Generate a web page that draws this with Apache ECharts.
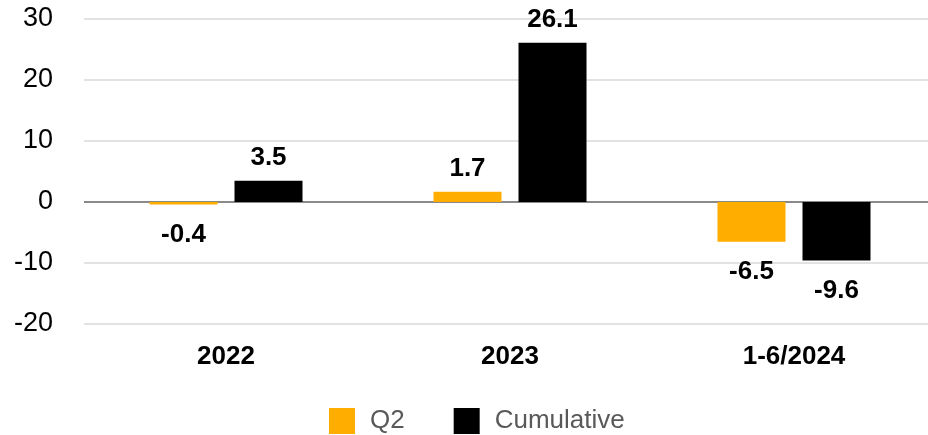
<!DOCTYPE html>
<html>
<head>
<meta charset="utf-8">
<script src="https://cdn.jsdelivr.net/npm/echarts@6/dist/echarts.min.js"></script>
<style>
html,body{margin:0;padding:0;background:#fff;overflow:hidden;width:928px;height:435px;}
#chart{width:940px;height:435px;}
</style>
</head>
<body>
<div id="chart"></div>
<script>
const categories = ['2022', '2023', '1-6/2024'];
const q2Values = [-0.4, 1.7, -6.5];
const cumulativeValues = [3.5, 26.1, -9.6];
const yTicks = [-20, -10, 0, 10, 20, 30];

const FONT = '"Liberation Sans", Arial, sans-serif';
const labelStyle = {
  show: true,
  fontFamily: FONT,
  fontSize: 26,
  fontWeight: 'bold',
  color: '#000',
  formatter: p => p.value.toFixed(1)
};
function withLabels(values) {
  return values.map(v => ({
    value: v,
    label: { position: v >= 0 ? 'top' : 'bottom', distance: v >= 0 ? 10 : 17 }
  }));
}

const chart = echarts.init(document.getElementById('chart'), null, { renderer: 'canvas' });
chart.setOption({
  animation: false,
  backgroundColor: '#fff',
  grid: { left: 84, top: 19, width: 852, height: 305, containLabel: false },
  legend: {
    left: 329, top: 408, padding: 0,
    itemWidth: 26, itemHeight: 26, itemGap: 49,
    icon: 'rect',
    textStyle: { fontFamily: FONT, fontSize: 26, color: '#595959', padding: [0, 0, 0, 10] },
    data: ['Q2', 'Cumulative']
  },
  xAxis: {
    type: 'category',
    data: categories,
    axisLine: { show: false },
    axisTick: { show: false },
    axisLabel: { fontFamily: FONT, fontSize: 26, fontWeight: 'bold', color: '#000', margin: 20 }
  },
  yAxis: {
    type: 'value',
    min: yTicks[0], max: yTicks[yTicks.length - 1], interval: 10,
    axisLine: { show: false },
    axisTick: { show: false },
    axisLabel: { fontFamily: FONT, fontSize: 27, color: '#000', margin: 31 },
    splitLine: { lineStyle: { color: '#d9d9d9', width: 1.5 } }
  },
  series: [
    {
      name: 'Q2', type: 'bar', barWidth: 68, barGap: '25%',
      itemStyle: { color: '#FFAE00' },
      label: labelStyle,
      data: withLabels(q2Values),
      markLine: {
        silent: true, symbol: 'none', label: { show: false },
        lineStyle: { color: '#8a8a8a', width: 2, type: 'solid' },
        data: [{ yAxis: 0 }],
        z: 1
      }
    },
    {
      name: 'Cumulative', type: 'bar', barWidth: 68, barGap: '25%',
      itemStyle: { color: '#000' },
      label: labelStyle,
      data: withLabels(cumulativeValues)
    }
  ]
});
</script>
</body>
</html>
